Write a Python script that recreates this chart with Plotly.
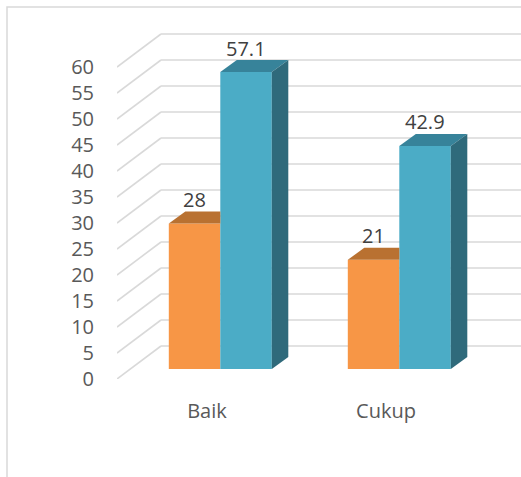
import plotly.graph_objects as go

# ---- data ----
categories = ["Baik", "Cukup"]
series_a = [28, 21]        # orange series
series_b = [57.1, 42.9]    # blue series
y_ticks = [0, 5, 10, 15, 20, 25, 30, 35, 40, 45, 50, 55, 60]

# ---- styling / pseudo-3D geometry (pixel based, converted to axis units) ----
PX_PER_X = 179.0          # pixels per category step
PX_PER_Y = 5.2            # pixels per value unit
ML, MR, MT, MB = 117, 0, 20, 98
W, H = 521, 477

def ux(px):
    return px / PX_PER_X

def uy(px):
    return px / PX_PER_Y

WALL_DX, WALL_DY = ux(44), uy(33)     # depth of the back wall
PLANE_DX, PLANE_DY = ux(13.3), uy(10)  # front face of the bars vs. front axis plane
BAR_DX, BAR_DY = ux(16.5), uy(12)      # depth of each bar
BAR_W = ux(51.5)

X_MIN = -ux(207 - ML)
X_MAX = X_MIN + ux(W - ML - MR)
Y_MAX = uy(H - MT - MB)

ORANGE = dict(front="#F79646", top="#B97131")
BLUE = dict(front="#4BACC6", top="#37839A", side="#2F6A7B")
GRID = "#D9D9D9"

fig = go.Figure()

# back wall gridlines + diagonal floor/side lines
shapes = []
for v in y_ticks:
    shapes.append(dict(type="line", xref="x", yref="y", layer="below",
                       x0=X_MIN, y0=v, x1=X_MIN + WALL_DX, y1=v + WALL_DY,
                       line=dict(color=GRID, width=1.6)))
    shapes.append(dict(type="line", xref="x", yref="y", layer="below",
                       x0=X_MIN + WALL_DX, y0=v + WALL_DY, x1=X_MAX, y1=v + WALL_DY,
                       line=dict(color=GRID, width=1.6)))

# outer chart frame
fx0 = (7 - ML) / (W - ML - MR)
fy1 = (H - MB - 7) / (H - MT - MB)
shapes.append(dict(type="rect", xref="paper", yref="paper", layer="below",
                   x0=fx0, x1=1.2, y0=-0.5, y1=fy1,
                   line=dict(color=GRID, width=1.5), fillcolor="rgba(0,0,0,0)"))

centers = [i + PLANE_DX for i in range(len(categories))]

# front faces as bars
fig.add_trace(go.Bar(x=centers, y=series_a, base=PLANE_DY, width=BAR_W, offset=-BAR_W,
                     marker=dict(color=ORANGE["front"], line=dict(width=0)),
                     name="A", showlegend=False))
fig.add_trace(go.Bar(x=centers, y=series_b, base=PLANE_DY, width=BAR_W, offset=0,
                     marker=dict(color=BLUE["front"], line=dict(width=0)),
                     name="B", showlegend=False))

# top faces of the orange bars (part not hidden by the blue bars)
for c, v in zip(centers, series_a):
    x0, x1 = c - BAR_W, c
    t = PLANE_DY + v
    fig.add_trace(go.Scatter(
        x=[x0, x1, x1, x0 + BAR_DX, x0], y=[t, t, t + BAR_DY, t + BAR_DY, t],
        fill="toself", fillcolor=ORANGE["top"], mode="lines",
        line=dict(width=0, color=ORANGE["top"]), hoverinfo="skip", showlegend=False))

# top and side faces of the blue bars
for c, v in zip(centers, series_b):
    x0, x1 = c, c + BAR_W
    t = PLANE_DY + v
    b = PLANE_DY
    fig.add_trace(go.Scatter(
        x=[x0, x1, x1 + BAR_DX, x0 + BAR_DX, x0], y=[t, t, t + BAR_DY, t + BAR_DY, t],
        fill="toself", fillcolor=BLUE["top"], mode="lines",
        line=dict(width=0, color=BLUE["top"]), hoverinfo="skip", showlegend=False))
    fig.add_trace(go.Scatter(
        x=[x1, x1 + BAR_DX, x1 + BAR_DX, x1, x1], y=[b, b + BAR_DY, t + BAR_DY, t, b],
        fill="toself", fillcolor=BLUE["side"], mode="lines",
        line=dict(width=0, color=BLUE["side"]), hoverinfo="skip", showlegend=False))

# value labels
annotations = []
for c, va, vb in zip(centers, series_a, series_b):
    for xc, v in ((c - BAR_W / 2, va), (c + BAR_W / 2, vb)):
        annotations.append(dict(x=xc, y=PLANE_DY + v, xref="x", yref="y",
                                text=f"{v:g}", showarrow=False, yshift=24,
                                yanchor="middle",
                                font=dict(size=20, color="#404040", family="Open Sans")))

fig.update_layout(
    width=W, height=H,
    margin=dict(l=ML, r=MR, t=MT, b=MB, pad=0),
    paper_bgcolor="white", plot_bgcolor="white",
    shapes=shapes, annotations=annotations,
    font=dict(family="Open Sans", size=20, color="#595959"),
    xaxis=dict(range=[X_MIN, X_MAX], tickvals=list(range(len(categories))),
               ticktext=categories, showgrid=False, zeroline=False, showline=False,
               ticks="outside", ticklen=14, tickcolor="rgba(0,0,0,0)"),
    yaxis=dict(range=[0, Y_MAX], tickvals=y_ticks, ticktext=[str(t) for t in y_ticks],
               showgrid=False, zeroline=False, showline=False,
               ticks="outside", ticklen=18, tickcolor="rgba(0,0,0,0)"),
    showlegend=False,
)

fig.write_html("out.html")
